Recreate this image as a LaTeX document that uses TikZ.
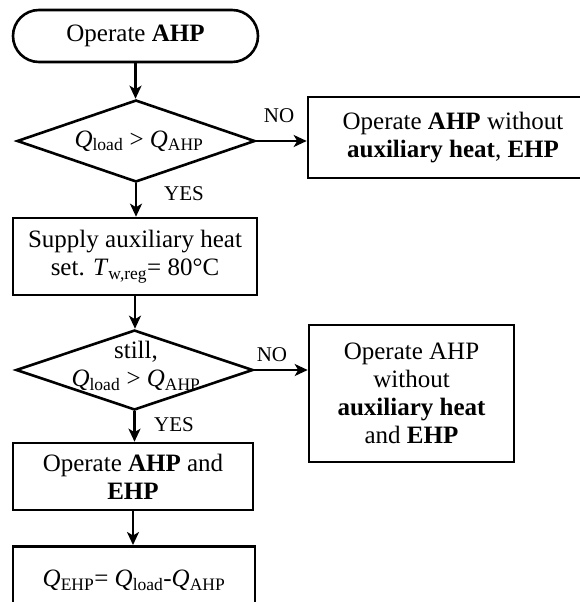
\documentclass[tikz,border=0pt]{standalone}
\usepackage{fontspec}
\setmainfont{Liberation Serif}
\usetikzlibrary{shapes.geometric,arrows.meta}
\newcommand\Qv[1]{\textit{Q}\textsubscript{#1}}
\begin{document}
\begin{tikzpicture}[x=1pt,y=-1pt,
  outline/.style={draw=black,line width=2.6pt,inner sep=0pt,align=center,
    font=\fontsize{25}{28}\selectfont},
  procbox/.style={outline,rectangle},
  termbox/.style={outline,rectangle,rounded corners=26pt},
  decision/.style={outline,diamond},
  txt/.style={inner sep=0pt,align=center,font=\fontsize{25}{28}\selectfont},
  tag/.style={inner sep=0pt,font=\fontsize{21}{24}\selectfont},
  flow/.style={line width=2.2pt,-{Stealth[length=13pt,width=12pt,inset=3.5pt]}}]
\useasboundingbox (0,0) rectangle (579,602);

% main column
\node[termbox,minimum width=245pt,minimum height=52pt] (start) at (135.5,36) {Operate \textbf{AHP}};
\node[decision,minimum width=238pt,minimum height=82pt] (d1) at (136,141) {};
\node[txt] (d1t) at (139,141) {\Qv{load} > \Qv{AHP}};
\node[procbox,minimum width=244pt,minimum height=77pt] (heat) at (135,256.5)
  {Supply auxiliary heat\\set. \textit{T}\textsubscript{w,reg}= 80°C};
\node[decision,minimum width=237pt,minimum height=80pt] (d2) at (134.5,370) {};
\node[txt] (d2t) at (136,366) {still,\\\Qv{load} > \Qv{AHP}};
\node[procbox,minimum width=240pt,minimum height=67pt] (both) at (133,476.5)
  {Operate \textbf{AHP} and\\\textbf{EHP}};
\node[procbox,anchor=north,minimum width=242pt,text height=40pt,text depth=40pt] (split) at (134,545)
  {\Qv{EHP}= \Qv{load}-\Qv{AHP}};

% side branches
\node[procbox,minimum width=290pt,minimum height=81pt] (noaux1) at (453,137.5)
  {Operate \textbf{AHP} without\\\textbf{auxiliary heat}, \textbf{EHP}};
\node[procbox,minimum width=205pt,minimum height=137pt] (noaux2) at (411.5,393.5)
  {Operate AHP\\without\\\textbf{auxiliary heat}\\and \textbf{EHP}};

% connectors
\draw[flow] (start.south) -- (start.south |- d1.north);
\draw[flow] (d1.south) -- (d1.south |- heat.north);
\draw[flow] (heat.south) -- (heat.south |- d2.north);
\draw[flow] (d2.south) -- (d2.south |- both.north);
\draw[flow] (both.south) -- (both.south |- split.north);
\draw[flow] (d1.east) -- (d1.east -| noaux1.west);
\draw[flow] (d2.east) -- (d2.east -| noaux2.west);

% branch labels
\node[tag] (no1) at (279,116) {NO};
\node[tag] (yes1) at (184,194) {YES};
\node[tag] (no2) at (272,355) {NO};
\node[tag] (yes2) at (174,425) {YES};
\end{tikzpicture}
\end{document}
